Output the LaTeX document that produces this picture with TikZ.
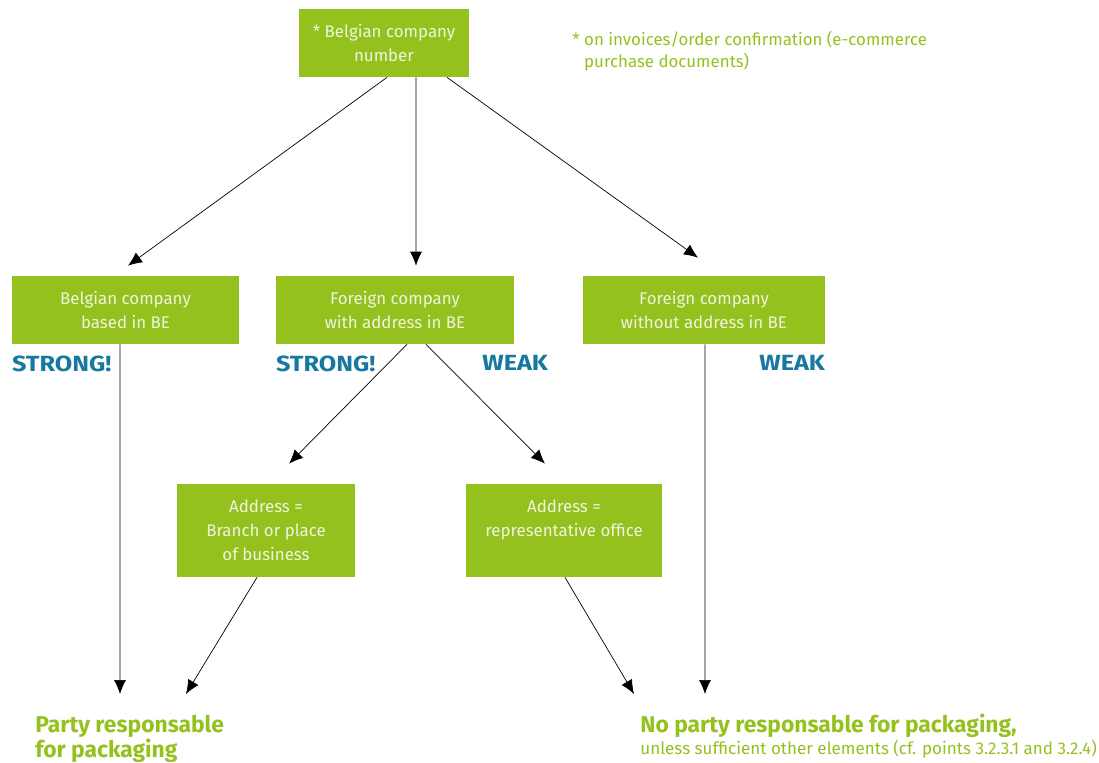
\documentclass[tikz,border=0pt]{standalone}
\usepackage{fontspec}
\setmainfont{Fira Sans}
\newfontfamily\widefont[FakeStretch = 1.15]{Fira Sans}
\usepackage{tikz}
\usetikzlibrary{arrows.meta}
\definecolor{leaf}{HTML}{95C11F}
\definecolor{petrol}{HTML}{17799F}
\definecolor{pale}{HTML}{EEF5DD}

\begin{document}
\begin{tikzpicture}[x = 0.02cm, y = -0.02cm]
% Node styles ---
\tikzstyle{box} = [rectangle, fill = leaf, text = pale, align = center, inner sep = 0pt, minimum height = 1.36cm, font = \fontsize{9.6}{13.6}\selectfont] % Green boxes
\tikzstyle{tall} = [box, minimum height = 1.86cm] % Lower boxes
\tikzstyle{grade} = [text = petrol, inner sep = 0pt, font = \widefont\fontsize{12.5}{14}\selectfont\bfseries] % Strong / weak
\tikzstyle{note} = [text = leaf, align = left, inner sep = 0pt, font = \fontsize{9.6}{12.6}\selectfont] % Footnote
\tikzstyle{res} = [text = leaf, align = left, inner sep = 0pt, font = \fontsize{13}{10.5}\selectfont\bfseries] % Results
% Edge styles
\tikzstyle{con} = [-{Latex[length = 2.8mm, width = 2.4mm]}, draw = black, thin] % Arrows
% Begin Figure ---
\useasboundingbox (0,0) rectangle (1099,762);
% Nodes
\node at (384,43) [box, minimum width = 3.4cm] (num) {* Belgian company\\number};
\node at (572,31) [note, anchor = north west] (star) {* on invoices/order confirmation (e-commerce\\\hphantom{* }purchase documents)};
\node at (125.5,310) [box, minimum width = 4.54cm] (bebe) {Belgian company\\based in BE};
\node at (395,310) [box, minimum width = 4.76cm] (foadr) {Foreign company\\with address in BE};
\node at (704,310) [box, minimum width = 4.84cm] (fono) {Foreign company\\without address in BE};
\node at (266,530.5) [tall, minimum width = 3.56cm] (branch) {Address =\\Branch or place\\of business};
\node at (564,530.5) [tall, minimum width = 3.92cm] (repr) {Address =\\representative office\\~};
\node at ([yshift = -0.22cm]bebe.south west) [grade, anchor = north west] (s1) {STRONG!};
\node at ([yshift = -0.22cm]foadr.south west) [grade, anchor = north west] (s2) {STRONG!};
\node at ([xshift = 0.68cm, yshift = -0.22cm]foadr.south east) [grade, anchor = north east] (w1) {WEAK};
\node at ([yshift = -0.22cm]fono.south east) [grade, anchor = north east] (w2) {WEAK};
\node at (35,715) [res, anchor = north west] (party) {Party responsable\\[-0.5pt]for packaging};
\node at (640,714) [res, anchor = north west] (noparty) {No party responsable for packaging,\\{\fontsize{9.7}{12}\selectfont\mdseries unless sufficient other elements (cf. points 3.2.3.1 and 3.2.4)}};
% Paths
\draw [con] ([xshift = 0.06cm]num.south) -- ([xshift = 0.05cm, yshift = 0.2cm]bebe.north);
\draw [con] ([xshift = 0.64cm]num.south) -- ([xshift = 0.42cm, yshift = 0.2cm]foadr.north);
\draw [con] ([xshift = 1.26cm]num.south) -- ([xshift = -0.12cm, yshift = 0.36cm]fono.north);
\draw [con] ([xshift = 0.24cm]foadr.south) -- ([xshift = 0.46cm, yshift = 0.4cm]branch.north);
\draw [con] ([xshift = 0.62cm]foadr.south) -- ([xshift = -0.38cm, yshift = 0.4cm]repr.north);
\draw [con] ([xshift = -0.11cm]bebe.south) -- ([xshift = 1.7cm, yshift = 0.42cm]party.north west);
\draw [con] ([xshift = -0.18cm]branch.south) -- ([xshift = 3.02cm, yshift = 0.42cm]party.north west);
\draw [con] ([xshift = 0.02cm]repr.south) -- ([xshift = -0.12cm, yshift = 0.4cm]noparty.north west);
\draw [con] ([xshift = 0.02cm]fono.south) -- ([xshift = 1.3cm, yshift = 0.4cm]noparty.north west);
\end{tikzpicture}
\end{document}
